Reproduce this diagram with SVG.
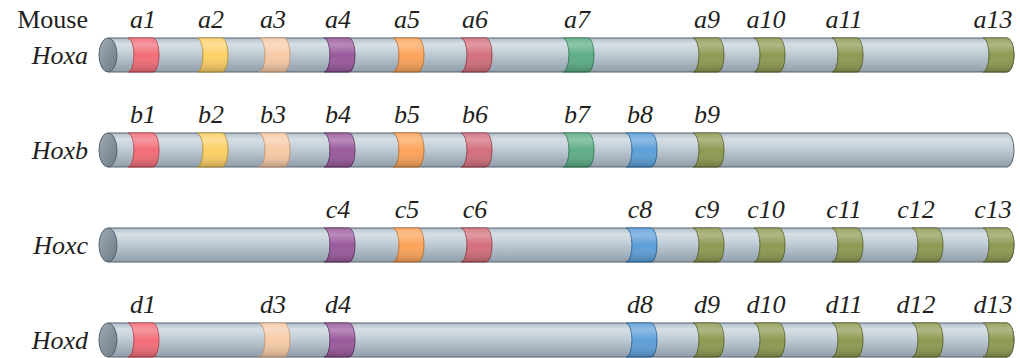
<svg xmlns="http://www.w3.org/2000/svg" width="1020" height="358" viewBox="0 0 1020 358">
<style>
.t{font-size:26px;fill:#231f20}
.it{font-style:italic}
.g{text-anchor:middle;font-style:italic}
.tube{fill:url(#tubeG);stroke:#56636e;stroke-width:1}
.cap{fill:url(#capG);stroke:#56636e;stroke-width:1}
.shade{fill:url(#shadeG);stroke:none}
.c1{fill:#f26d78;stroke:#b8444f}
.c2{fill:#fdd066;stroke:#b8963c}
.c3{fill:#f6caa6;stroke:#c49a78}
.c4{fill:#9a5a9c;stroke:#5e3462}
.c5{fill:#fca35a;stroke:#bb7434}
.c6{fill:#d36f7b;stroke:#92434d}
.c7{fill:#5dad86;stroke:#347a58}
.c8{fill:#5d9fd8;stroke:#2e679a}
.c9{fill:#8e9a52;stroke:#5a6430}
</style>
<defs>
<linearGradient id="tubeG" x1="0" y1="0" x2="0" y2="1">
<stop offset="0" stop-color="#b0bec8"/>
<stop offset="0.18" stop-color="#d6dfe5"/>
<stop offset="0.45" stop-color="#c2ced6"/>
<stop offset="1" stop-color="#909eaa"/>
</linearGradient>
<linearGradient id="capG" x1="0" y1="0" x2="1" y2="1">
<stop offset="0" stop-color="#9eacb7"/>
<stop offset="1" stop-color="#6c7a86"/>
</linearGradient>
<linearGradient id="shadeG" x1="0" y1="0" x2="0" y2="1">
<stop offset="0" stop-color="#ffffff" stop-opacity="0.1"/>
<stop offset="0.2" stop-color="#ffffff" stop-opacity="0.3"/>
<stop offset="0.5" stop-color="#ffffff" stop-opacity="0"/>
<stop offset="1" stop-color="#000000" stop-opacity="0.22"/>
</linearGradient>
<path id="band" d="M0,-17 A6,17 0 0 1 0,17 H25 A6,17 0 0 0 25,-17 Z"/>
<path id="bandEnd" d="M0,-17 A6,17 0 0 1 0,17 H24 A7,17 0 0 0 24,-17 Z"/>
<path id="body" d="M108,-17 H1007 A7,17 0 0 1 1007,17 H108 Z"/>
</defs>

<g font-family="'Liberation Serif', 'Times New Roman', Times, serif" class="t">
<text x="88" y="28" text-anchor="end">Mouse</text>

<!-- Hoxa -->
<g id="hoxa">
<text class="it" x="88" y="64" text-anchor="end">Hoxa</text>
<g transform="translate(0,55)">
<use href="#body" class="tube"/>
<ellipse class="cap" cx="108" cy="0" rx="9" ry="17"/>
<g id="a1"><use href="#band" x="128" class="c1"/><use href="#band" x="128" class="shade"/></g>
<g id="a2"><use href="#band" x="197" class="c2"/><use href="#band" x="197" class="shade"/></g>
<g id="a3"><use href="#band" x="259" class="c3"/><use href="#band" x="259" class="shade"/></g>
<g id="a4"><use href="#band" x="324" class="c4"/><use href="#band" x="324" class="shade"/></g>
<g id="a5"><use href="#band" x="393" class="c5"/><use href="#band" x="393" class="shade"/></g>
<g id="a6"><use href="#band" x="461" class="c6"/><use href="#band" x="461" class="shade"/></g>
<g id="a7"><use href="#band" x="563" class="c7"/><use href="#band" x="563" class="shade"/></g>
<g id="a9"><use href="#band" x="693" class="c9"/><use href="#band" x="693" class="shade"/></g>
<g id="a10"><use href="#band" x="754" class="c9"/><use href="#band" x="754" class="shade"/></g>
<g id="a11"><use href="#band" x="832" class="c9"/><use href="#band" x="832" class="shade"/></g>
<g id="a13"><use href="#bandEnd" x="983" class="c9"/><use href="#bandEnd" x="983" class="shade"/></g>
</g>
<text class="g" x="143" y="28">a1</text>
<text class="g" x="211" y="28">a2</text>
<text class="g" x="273" y="28">a3</text>
<text class="g" x="338" y="28">a4</text>
<text class="g" x="407" y="28">a5</text>
<text class="g" x="475" y="28">a6</text>
<text class="g" x="577" y="28">a7</text>
<text class="g" x="707" y="28">a9</text>
<text class="g" x="766" y="28">a10</text>
<text class="g" x="844" y="28">a11</text>
<text class="g" x="993" y="28">a13</text>
</g>

<!-- Hoxb -->
<g id="hoxb">
<text class="it" x="88" y="159" text-anchor="end">Hoxb</text>
<g transform="translate(0,150)">
<use href="#body" class="tube"/>
<ellipse class="cap" cx="108" cy="0" rx="9" ry="17"/>
<g id="b1"><use href="#band" x="128" class="c1"/><use href="#band" x="128" class="shade"/></g>
<g id="b2"><use href="#band" x="197" class="c2"/><use href="#band" x="197" class="shade"/></g>
<g id="b3"><use href="#band" x="259" class="c3"/><use href="#band" x="259" class="shade"/></g>
<g id="b4"><use href="#band" x="324" class="c4"/><use href="#band" x="324" class="shade"/></g>
<g id="b5"><use href="#band" x="393" class="c5"/><use href="#band" x="393" class="shade"/></g>
<g id="b6"><use href="#band" x="461" class="c6"/><use href="#band" x="461" class="shade"/></g>
<g id="b7"><use href="#band" x="563" class="c7"/><use href="#band" x="563" class="shade"/></g>
<g id="b8"><use href="#band" x="626" class="c8"/><use href="#band" x="626" class="shade"/></g>
<g id="b9"><use href="#band" x="693" class="c9"/><use href="#band" x="693" class="shade"/></g>
</g>
<text class="g" x="143" y="123">b1</text>
<text class="g" x="211" y="123">b2</text>
<text class="g" x="273" y="123">b3</text>
<text class="g" x="338" y="123">b4</text>
<text class="g" x="407" y="123">b5</text>
<text class="g" x="475" y="123">b6</text>
<text class="g" x="577" y="123">b7</text>
<text class="g" x="640" y="123">b8</text>
<text class="g" x="707" y="123">b9</text>
</g>

<!-- Hoxc -->
<g id="hoxc">
<text class="it" x="88" y="254" text-anchor="end">Hoxc</text>
<g transform="translate(0,245)">
<use href="#body" class="tube"/>
<ellipse class="cap" cx="108" cy="0" rx="9" ry="17"/>
<g id="c4"><use href="#band" x="324" class="c4"/><use href="#band" x="324" class="shade"/></g>
<g id="c5"><use href="#band" x="393" class="c5"/><use href="#band" x="393" class="shade"/></g>
<g id="c6"><use href="#band" x="461" class="c6"/><use href="#band" x="461" class="shade"/></g>
<g id="c8"><use href="#band" x="626" class="c8"/><use href="#band" x="626" class="shade"/></g>
<g id="c9"><use href="#band" x="693" class="c9"/><use href="#band" x="693" class="shade"/></g>
<g id="c10"><use href="#band" x="754" class="c9"/><use href="#band" x="754" class="shade"/></g>
<g id="c11"><use href="#band" x="832" class="c9"/><use href="#band" x="832" class="shade"/></g>
<g id="c12"><use href="#band" x="912" class="c9"/><use href="#band" x="912" class="shade"/></g>
<g id="c13"><use href="#bandEnd" x="983" class="c9"/><use href="#bandEnd" x="983" class="shade"/></g>
</g>
<text class="g" x="338" y="218">c4</text>
<text class="g" x="407" y="218">c5</text>
<text class="g" x="475" y="218">c6</text>
<text class="g" x="640" y="218">c8</text>
<text class="g" x="707" y="218">c9</text>
<text class="g" x="766" y="218">c10</text>
<text class="g" x="844" y="218">c11</text>
<text class="g" x="916" y="218">c12</text>
<text class="g" x="993" y="218">c13</text>
</g>

<!-- Hoxd -->
<g id="hoxd">
<text class="it" x="88" y="349" text-anchor="end">Hoxd</text>
<g transform="translate(0,340)">
<use href="#body" class="tube"/>
<ellipse class="cap" cx="108" cy="0" rx="9" ry="17"/>
<g id="d1"><use href="#band" x="128" class="c1"/><use href="#band" x="128" class="shade"/></g>
<g id="d3"><use href="#band" x="259" class="c3"/><use href="#band" x="259" class="shade"/></g>
<g id="d4"><use href="#band" x="324" class="c4"/><use href="#band" x="324" class="shade"/></g>
<g id="d8"><use href="#band" x="626" class="c8"/><use href="#band" x="626" class="shade"/></g>
<g id="d9"><use href="#band" x="693" class="c9"/><use href="#band" x="693" class="shade"/></g>
<g id="d10"><use href="#band" x="754" class="c9"/><use href="#band" x="754" class="shade"/></g>
<g id="d11"><use href="#band" x="832" class="c9"/><use href="#band" x="832" class="shade"/></g>
<g id="d12"><use href="#band" x="912" class="c9"/><use href="#band" x="912" class="shade"/></g>
<g id="d13"><use href="#bandEnd" x="983" class="c9"/><use href="#bandEnd" x="983" class="shade"/></g>
</g>
<text class="g" x="143" y="313">d1</text>
<text class="g" x="273" y="313">d3</text>
<text class="g" x="338" y="313">d4</text>
<text class="g" x="640" y="313">d8</text>
<text class="g" x="707" y="313">d9</text>
<text class="g" x="766" y="313">d10</text>
<text class="g" x="844" y="313">d11</text>
<text class="g" x="916" y="313">d12</text>
<text class="g" x="993" y="313">d13</text>
</g>
</g>
</svg>
